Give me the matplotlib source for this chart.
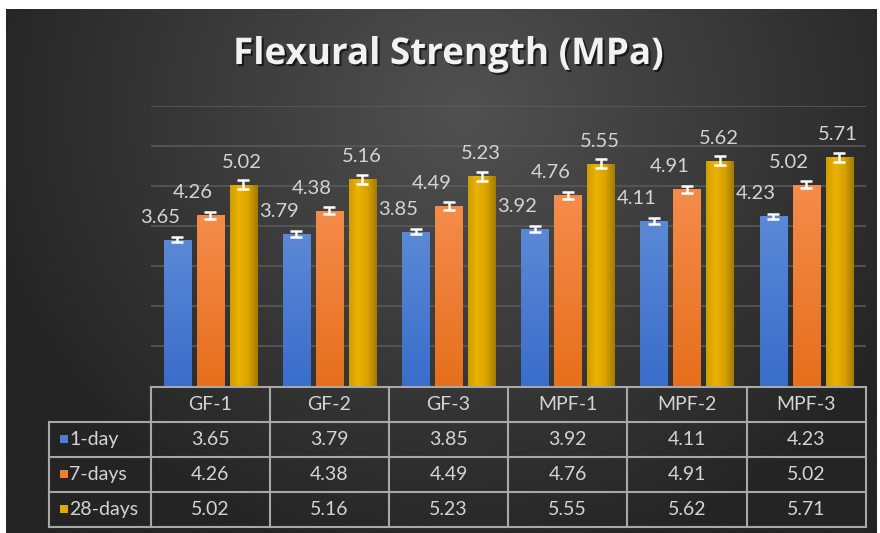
import numpy as np
import matplotlib
matplotlib.use("Agg")
import matplotlib.pyplot as plt
import matplotlib.patheffects as pe
from matplotlib.colors import LinearSegmentedColormap, to_rgb
from matplotlib.patches import Rectangle

# ---- data ----
categories = ["GF-1", "GF-2", "GF-3", "MPF-1", "MPF-2", "MPF-3"]
series_names = ["1-day", "7-days", "28-days"]
strength_1day = [3.65, 3.79, 3.85, 3.92, 4.11, 4.23]
strength_7days = [4.26, 4.38, 4.49, 4.76, 4.91, 5.02]
strength_28days = [5.02, 5.16, 5.23, 5.55, 5.62, 5.71]
error_1day = [0.07, 0.07, 0.07, 0.07, 0.07, 0.07]
error_7days = [0.09, 0.09, 0.09, 0.09, 0.09, 0.09]
error_28days = [0.11, 0.11, 0.11, 0.11, 0.11, 0.11]

values = [strength_1day, strength_7days, strength_28days]
errors = [error_1day, error_7days, error_28days]

# ---- styling ----
W, H = 880, 533
LABEL_FONT = ["Lato", "DejaVu Sans"]
TITLE_FONT = ["Open Sans", "DejaVu Sans"]
text_grey = "#d4d4d4"
line_grey = "#a8a8a8"
grid_grey = "#5c5c5c"

# vertical gradients for blue/orange, horizontal sheen for gold
bar_styles = [
    dict(colors=["#3a6dcb", "#5b89d6"], direction="v", key="#4a7fd6"),
    dict(colors=["#e66f1c", "#f58c4b"], direction="v", key="#f07f30"),
    dict(colors=["#cf9d00", "#ebb300", "#d9a200", "#a27a00"], direction="h", key="#e2a900"),
]
label_dx_pt = [-12.5, -12.5, -0.7]

fig = plt.figure(figsize=(W / 100, H / 100), dpi=100)
fig.patch.set_facecolor("white")

# ---- background panel with radial gradient ----
bg_left, bg_top, bg_right = 6, 9, 876
bg = fig.add_axes([bg_left / W, 0, (bg_right - bg_left) / W, (H - bg_top) / H])
bg.set_axis_off()
gx = np.linspace(bg_left, bg_right, 400)
gy = np.linspace(bg_top, H, 260)
X, Y = np.meshgrid(gx, gy)
d = np.sqrt(((X - 465) / 500) ** 2 + ((Y - 110) / 470) ** 2)
d = np.clip(d, 0, 1)
c_in = np.array(to_rgb("#515151"))
c_out = np.array(to_rgb("#242424"))
img = c_in[None, None, :] * (1 - d[..., None]) + c_out[None, None, :] * d[..., None]
bg.imshow(img, extent=[0, 1, 0, 1], aspect="auto", interpolation="bilinear")
bg.set_xlim(0, 1)
bg.set_ylim(0, 1)

# ---- bar chart ----
plot_left, plot_right = 150.7, 865.7
plot_bottom, plot_top = 385.7, 105.7
ax = fig.add_axes([plot_left / W, 1 - plot_bottom / H,
                   (plot_right - plot_left) / W, (plot_bottom - plot_top) / H])
ax.set_facecolor("none")
ax.set_xlim(-0.5, len(categories) - 0.5)
ax.set_ylim(0, 7)
for s in ax.spines.values():
    s.set_visible(False)
ax.set_xticks([])
ax.set_yticks([])
for gv in range(1, 8):
    ax.axhline(gv, color=grid_grey, lw=1.1, zorder=1)

x = np.arange(len(categories))
bar_w = 0.227
offsets = [-0.277, 0.0, 0.277]

for i, (vals, errs, st) in enumerate(zip(values, errors, bar_styles)):
    xs = x + offsets[i]
    bars = ax.bar(xs, vals, width=bar_w, color="none", edgecolor="none", zorder=2)
    cmap = LinearSegmentedColormap.from_list(f"g{i}", st["colors"])
    if st["direction"] == "v":
        grad = np.linspace(0, 1, 256).reshape(-1, 1)
    else:
        grad = np.linspace(0, 1, 256).reshape(1, -1)
    for b in bars:
        x0, y0 = b.get_x(), b.get_y()
        bw, bh = b.get_width(), b.get_height()
        im = ax.imshow(grad, extent=[x0, x0 + bw, y0, y0 + bh], origin="lower",
                       aspect="auto", cmap=cmap, interpolation="bilinear", zorder=2)
        im.set_clip_path(b)
    ax.errorbar(xs, vals, yerr=errs, fmt="none", ecolor="white", elinewidth=1.8,
                capsize=4, capthick=1.8, zorder=4)
    for xv, v in zip(xs, vals):
        ax.annotate(f"{v:.2f}", xy=(xv, v), xytext=(label_dx_pt[i], 16.2),
                    textcoords="offset points", ha="center", va="center",
                    fontsize=14.5, color=text_grey, family=LABEL_FONT, zorder=5)

ax.set_xlim(-0.5, len(categories) - 0.5)
ax.set_ylim(0, 7)

# ---- title ----
fig.text(448 / W, 1 - 64 / H, "Flexural Strength (MPa)", ha="center", va="baseline",
         fontsize=26.5, fontweight="bold", family=TITLE_FONT, color="#f2f2f2",
         path_effects=[pe.SimplePatchShadow(offset=(1.5, -1.5), shadow_rgbFace="black", alpha=0.6),
                       pe.Normal()])

# ---- data table ----
tab_left, tab_top, tab_bottom = 49.0, 386.7, 526.7
col_w = (plot_right - plot_left) / len(categories)
x_left = -0.5 - (plot_left - tab_left) / col_w
tab = fig.add_axes([tab_left / W, 1 - tab_bottom / H,
                    (plot_right - tab_left) / W, (tab_bottom - tab_top) / H])
tab.set_axis_off()
tab.set_xlim(x_left, len(categories) - 0.5)
tab.set_ylim(4, 0)
n_rows = len(series_names) + 1
lw_t = 1.5
tab.plot([-0.5, len(categories) - 0.5], [0, 0], color=line_grey, lw=lw_t, clip_on=False)
for r in range(1, n_rows + 1):
    tab.plot([x_left, len(categories) - 0.5], [r, r], color=line_grey, lw=lw_t, clip_on=False)
for c in range(len(categories) + 1):
    tab.plot([c - 0.5, c - 0.5], [0, n_rows], color=line_grey, lw=lw_t, clip_on=False)
tab.plot([x_left, x_left], [1, n_rows], color=line_grey, lw=lw_t, clip_on=False)

for c, name in enumerate(categories):
    tab.text(c, 0.5, name, ha="center", va="center", fontsize=14, color=text_grey,
             family=LABEL_FONT)
for r, (name, vals, st) in enumerate(zip(series_names, values, bar_styles), start=1):
    sq = 8 / col_w
    tab.add_patch(Rectangle((x_left + 11 / col_w, r + 0.5 - 4 / 35), sq, 8 / 35,
                            facecolor=st["key"], edgecolor="none"))
    tab.text(x_left + 20 / col_w, r + 0.5, name, ha="left", va="center", fontsize=14,
             color=text_grey, family=LABEL_FONT)
    for c, v in enumerate(vals):
        tab.text(c, r + 0.5, f"{v:.2f}", ha="center", va="center", fontsize=14,
                 color=text_grey, family=LABEL_FONT)

fig.savefig("out.png", dpi=100, facecolor=fig.get_facecolor())
